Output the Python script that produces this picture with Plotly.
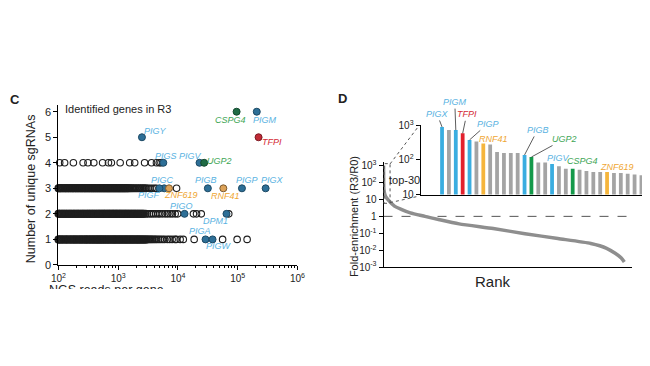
import plotly.graph_objects as go
import math

W, H = 650, 366
def fx(p): return p / W
def fy(p): return 1 - p / H

# ---------------- Panel C data ----------------
c_row1_reads = [100, 101, 105, 110, 112, 119, 121, 126, 134, 137, 139, 148, 155, 157, 166, 170, 178, 185, 187, 199, 204, 210, 223, 228, 236, 244, 256, 259, 272, 284, 290, 297, 312, 318, 333, 346, 350, 365, 379, 391, 396, 417, 428, 441, 455, 463, 487, 495, 512, 530, 537, 561, 582, 590, 611, 640, 652, 668, 701, 713, 736, 770, 779, 812, 838, 856, 889, 903, 941, 975, 988, 1035, 1062, 1090, 1121, 1170, 1190, 1236, 1281, 1302, 1361, 1390, 1433, 1488, 1521, 1580, 1641, 1660, 1730, 1795, 1822, 1890, 1975, 2004, 2081, 2160, 2190, 2280, 2375, 2410, 2507, 2600, 2690, 2760, 2880, 2990, 3050, 3210, 3330, 3480, 3620, 3800, 3990, 4210, 4440, 4760, 5090, 5520, 5980, 6640, 7260, 8010, 8920, 9400, 10900, 12300, 18700, 56000, 98000, 144000]
c_row2_reads = [100, 103, 104, 109, 114, 116, 122, 125, 130, 136, 138, 145, 151, 154, 162, 165, 173, 181, 183, 193, 199, 206, 216, 218, 231, 237, 247, 256, 262, 274, 281, 293, 306, 309, 325, 334, 341, 359, 367, 378, 394, 402, 420, 434, 443, 466, 474, 490, 509, 521, 540, 556, 574, 594, 602, 628, 649, 663, 690, 709, 724, 755, 771, 798, 826, 840, 874, 902, 921, 958, 974, 1018, 1045, 1070, 1109, 1140, 1172, 1221, 1240, 1292, 1330, 1361, 1412, 1460, 1497, 1551, 1600, 1652, 1701, 1766, 1808, 1880, 1930, 1992, 2070, 2131, 2201, 2281, 2350, 2440, 2520, 2612, 2705, 2890, 3100, 3350, 3600, 3900, 4250, 4650, 5000, 5500, 6100, 6700, 7400, 8100, 9000, 9900, 18200, 20500, 24600, 71000]
c_row3_reads = [100, 102, 107, 109, 113, 119, 121, 128, 132, 135, 143, 146, 151, 159, 162, 170, 176, 179, 190, 194, 201, 211, 214, 226, 232, 240, 251, 255, 268, 277, 283, 297, 303, 316, 328, 333, 351, 358, 371, 386, 393, 412, 420, 436, 452, 461, 482, 493, 510, 530, 538, 564, 575, 596, 619, 627, 657, 670, 692, 719, 731, 762, 780, 803, 834, 849, 885, 905, 930, 970, 987, 1030, 1052, 1082, 1125, 1145, 1195, 1222, 1258, 1308, 1330, 1390, 1430, 1470, 1540, 1610, 1700, 1800, 1920, 2050, 2200, 2350, 2520, 2700, 2900, 3150, 3400, 3700, 4050, 4350, 9500]
c_row4_reads = [105, 127, 178, 259, 312, 391, 549, 688, 770, 1080, 1560, 1890, 2770, 3620, 4370, 4880, 5200]

c_hit_genes  = ["PIGY", "CSPG4", "PIGM", "TFPI", "PIGS", "PIGV", "UGP2", "PIGC", "PIGF", "ZNF619", "PIGB", "RNF41", "PIGP", "PIGX", "PIGO", "DPM1", "PIGA", "PIGW"]
c_hit_reads  = [2500, 96000, 209000, 224000, 5700, 23000, 27500, 5900, 4900, 7100, 31700, 57600, 118000, 294000, 12900, 65000, 29000, 38000]
c_hit_sgrnas = [5, 6, 6, 5, 4, 4, 4, 3, 3, 3, 3, 3, 3, 3, 2, 2, 1, 1]
gene_group = {"PIGY": "GPI", "CSPG4": "GRN", "PIGM": "GPI", "TFPI": "RED", "PIGS": "GPI", "PIGV": "GPI",
              "UGP2": "GRN", "PIGC": "GPI", "PIGF": "GPI", "ZNF619": "ORG", "PIGB": "GPI", "RNF41": "ORG",
              "PIGP": "GPI", "PIGX": "GPI", "PIGO": "GPI", "DPM1": "GPI", "PIGA": "GPI", "PIGW": "GPI"}

# ---------------- Panel D data ----------------
d_rank = [1, 10, 30, 150, 400, 900, 1500, 2200, 3400, 4600, 6200, 9000, 11600, 14300, 17000, 18300, 19000, 19500, 19750]
d_fold = [1000, 160, 40, 16, 9, 4, 2.5, 1.6, 1.0, 0.63, 0.36, 0.19, 0.095, 0.049, 0.025, 0.013, 0.0066, 0.0035, 0.002]

d_top30_rank = list(range(1, 31))
d_top30_fold = [900, 740, 730, 590, 380, 340, 300, 280, 170, 160, 160, 160, 140, 122, 85, 85, 77, 66, 56, 56, 52, 48, 45, 45, 45, 42, 42, 40, 38, 36]
d_top30_gene = ["PIGX", "", "PIGM", "TFPI", "PIGP", "", "RNF41", "", "", "", "", "", "PIGB", "UGP2", "", "", "PIGV", "", "", "CSPG4", "", "", "", "", "ZNF619", "", "", "", "", ""]

# ---------------- styles ----------------
FONT = "Liberation Sans, Arial, sans-serif"
marker_fill = {"GPI": "#2d6f97", "GRN": "#1f6b45", "RED": "#c02a36", "ORG": "#dca258"}
marker_edge = {"GPI": "#1c4964", "GRN": "#134a2e", "RED": "#7c1a22", "ORG": "#7a5a30"}
label_col = {"GPI": "#5ab3e2", "GRN": "#3ea655", "RED": "#d42a35", "ORG": "#efa632"}
bar_col = {"GPI": "#3aade0", "GRN": "#14994a", "RED": "#e2212d", "ORG": "#f5b53c", "": "#a4a4a4"}

fig = go.Figure()

# gray rows (the crowded low-read part is drawn with a slightly heavier outline)
for yv, row in [(1, c_row1_reads), (2, c_row2_reads), (3, c_row3_reads), (4, c_row4_reads)]:
    lw = [1.5 if (v < 3000 and yv < 4) else 1.1 for v in row]
    fig.add_trace(go.Scatter(x=row, y=[yv] * len(row), mode="markers", xaxis="x", yaxis="y",
                             marker=dict(symbol="circle-open", size=6.5, color="#1e1e1e", line=dict(width=lw)),
                             cliponaxis=False, showlegend=False, hoverinfo="skip"))

# colored hits
fig.add_trace(go.Scatter(x=c_hit_reads, y=c_hit_sgrnas, mode="markers", xaxis="x", yaxis="y",
                         marker=dict(size=7, color=[marker_fill[gene_group[g]] for g in c_hit_genes],
                                     line=dict(width=1, color=[marker_edge[gene_group[g]] for g in c_hit_genes])),
                         cliponaxis=False, showlegend=False, hoverinfo="skip"))

c_label_offsets = {"PIGY": (14, 6), "CSPG4": (-6, -8), "PIGM": (8, -8), "TFPI": (13, -5), "PIGS": (3, 7),
                   "PIGV": (-9, 7), "UGP2": (15, 2), "PIGC": (-2, 8), "PIGF": (-10, -7), "ZNF619": (12, -7),
                   "PIGB": (-2, 8), "RNF41": (2, -8), "PIGP": (5, 8), "PIGX": (7, 8), "PIGO": (-3, 8),
                   "DPM1": (-11, -7), "PIGA": (-6, 8), "PIGW": (6, -7)}

annotations = []
for g, xv, yv in zip(c_hit_genes, c_hit_reads, c_hit_sgrnas):
    dx, dy = c_label_offsets[g]
    annotations.append(dict(x=math.log10(xv), y=yv, xref="x", yref="y", text=g, showarrow=False,
                            xshift=dx, yshift=dy, xanchor="center", yanchor="middle",
                            font=dict(family=FONT, size=9, color=label_col[gene_group[g]], style="italic")))

# ---------------- Panel D main ----------------
fig.add_trace(go.Scatter(x=[0, 20400], y=[1, 1], mode="lines", xaxis="x2", yaxis="y2",
                         line=dict(color="#555555", width=1, dash="dash"), showlegend=False, hoverinfo="skip"))
fig.add_trace(go.Scatter(x=d_rank, y=d_fold, mode="lines", xaxis="x2", yaxis="y2",
                         line=dict(color="#8e8e8e", width=3.5, shape="spline", smoothing=0.6),
                         cliponaxis=False, showlegend=False, hoverinfo="skip"))

# ---------------- Inset bars ----------------
fig.add_trace(go.Bar(x=d_top30_rank, y=d_top30_fold, xaxis="x3", yaxis="y3", width=0.55,
                     marker=dict(color=[bar_col[gene_group[g]] if g else bar_col[""] for g in d_top30_gene],
                                 line=dict(width=0)),
                     showlegend=False, hoverinfo="skip"))

d_label_arrows = {"PIGX": (-5, -13), "PIGM": (-1, -28), "TFPI": (4, -19), "PIGP": (18, -16),
                  "PIGB": (13, -25), "UGP2": (33, -18)}
d_label_shift = {"RNF41": (10, 4), "PIGV": (6, 6), "CSPG4": (10, 8), "ZNF619": (10, 5)}
for r, v, g in zip(d_top30_rank, d_top30_fold, d_top30_gene):
    if not g:
        continue
    f = dict(family=FONT, size=9, color=label_col[gene_group[g]], style="italic")
    if g in d_label_arrows:
        ax, ay = d_label_arrows[g]
        annotations.append(dict(x=r, y=math.log10(v), xref="x3", yref="y3", text=g, showarrow=True,
                                ax=ax, ay=ay, arrowhead=0, arrowwidth=0.8, arrowcolor="#333333",
                                standoff=0, font=f))
    else:
        dx, dy = d_label_shift[g]
        annotations.append(dict(x=r, y=math.log10(v), xref="x3", yref="y3", text=g, showarrow=False,
                                xshift=dx, yshift=dy, xanchor="center", yanchor="middle", font=f))

# ---------------- x-title of panel C (cut at the bottom, as in the reference) ----------------
fig.add_trace(go.Scatter(x=[0.31], y=[-0.1], mode="text", text=["NGS reads per gene"], xaxis="x4", yaxis="y4",
                         textfont=dict(family=FONT, size=12.5, color="#222222"), textposition="middle center",
                         cliponaxis=True, showlegend=False, hoverinfo="skip"))

# text annotations (paper-anchored, explicitly centred)
def ptext(x, y, text, size, **kw):
    d = dict(x=fx(x), y=fy(y), xref="paper", yref="paper", text=text, showarrow=False,
             xanchor="center", yanchor="middle", font=dict(family=FONT, size=size, color="#222222"))
    d.update(kw)
    return d

annotations += [
    ptext(7, 97, "<b>C</b>", 13),
    ptext(343, 96, "<b>D</b>", 13),
    ptext(113, 106, "Identified genes in R3", 11),
    ptext(23, 189, "Number of unique sgRNAs", 12.5, textangle=-90),
    ptext(355, 218, "Fold-enrichment (R3/R0)", 11, textangle=-90),
    ptext(497, 285, "Rank", 15),
    ptext(407, 180, "top-30", 11),
]

dash = dict(color="#555555", width=1, dash="dot")
shapes = [
    dict(type="rect", xref="paper", yref="paper", x0=fx(385.5), x1=fx(391.7), y0=fy(204), y1=fy(163), line=dash),
    dict(type="line", xref="paper", yref="paper", x0=fx(391.7), y0=fy(163.3), x1=fx(421.7), y1=fy(123.3), line=dash),
    dict(type="line", xref="paper", yref="paper", x0=fx(391.7), y0=fy(203.3), x1=fx(421.7), y1=fy(196.5), line=dash),
]

axis_common = dict(showgrid=False, zeroline=False, showline=True, linecolor="black", linewidth=1,
                   tickcolor="black", tickwidth=1, tickfont=dict(family=FONT, size=10, color="#222222"))

minor_vals = [m * 10 ** e for e in range(2, 6) for m in range(2, 10)]

fig.update_layout(
    width=W, height=H, margin=dict(l=0, r=0, t=0, b=0),
    paper_bgcolor="white", plot_bgcolor="rgba(0,0,0,0)",
    font=dict(family=FONT),
    annotations=annotations, shapes=shapes,
    xaxis=dict(axis_common, type="log", range=[2, 6], domain=[fx(51.7), fx(296.7)], anchor="y",
               ticks="outside", ticklen=4,
               tickvals=[1e2, 1e3, 1e4, 1e5, 1e6],
               ticktext=["10<sup>2</sup>", "10<sup>3</sup>", "10<sup>4</sup>", "10<sup>5</sup>", "10<sup>6</sup>"],
               minor=dict(ticks="outside", ticklen=2.5, tickvals=minor_vals, tickcolor="black", showgrid=False)),
    yaxis=dict(axis_common, range=[0, 6.25], domain=[fy(267.7), fy(102.7)], anchor="x",
               ticks="outside", ticklen=4, tickvals=[0, 1, 2, 3, 4, 5, 6], tickfont=dict(family=FONT, size=11, color="#222222")),
    xaxis2=dict(axis_common, range=[0, 20400], domain=[fx(385), fx(640)], anchor="y2",
                ticks="", showticklabels=False),
    yaxis2=dict(axis_common, type="log", range=[-3, 3.2], domain=[fy(270), fy(161.5)], anchor="x2",
                ticks="outside", ticklen=4,
                tickvals=[1e-3, 1e-2, 1e-1, 1, 10, 100, 1000],
                ticktext=["10<sup>-3</sup>", "10<sup>-2</sup>", "10<sup>-1</sup>", "1", "10", "10<sup>2</sup>", "10<sup>3</sup>"]),
    xaxis3=dict(axis_common, range=[-2.12, 30.08], domain=[fx(423), 1.0], anchor="y3",
                ticks="", showticklabels=False),
    yaxis3=dict(axis_common, type="log", range=[1, 3.02], domain=[fy(195), fy(122.7)], anchor="x3",
                ticks="outside", ticklen=4, tickvals=[10, 100, 1000],
                ticktext=["10", "10<sup>2</sup>", "10<sup>3</sup>"]),
    xaxis4=dict(range=[0, 1], domain=[0, 0.5], anchor="y4", visible=False),
    yaxis4=dict(range=[0, 1], domain=[fy(292.5), fy(272.5)], anchor="x4", visible=False),
)

# the page's default 8px body margin would shift the whole figure; remove it
fig.write_html("out.html", config={"displayModeBar": False},
               post_script="document.body.style.margin='0px';")
